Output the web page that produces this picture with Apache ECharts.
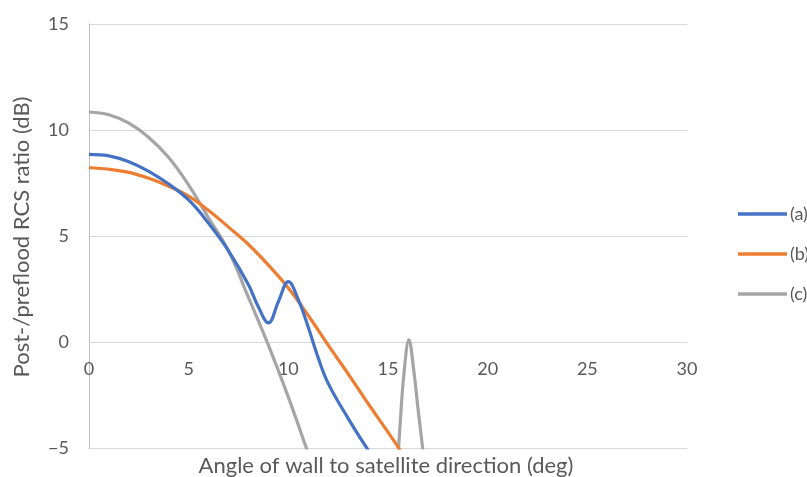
<!DOCTYPE html>
<html>
<head>
<meta charset="utf-8">
<script src="https://cdn.jsdelivr.net/npm/echarts@6/dist/echarts.min.js"></script>
<style>
html,body{margin:0;padding:0;background:#fff;}
#chart{width:807px;height:477px;}
</style>
</head>
<body>
<div id="chart"></div>
<script>
// Series names
const seriesNames = ['(a)', '(b)', '(c)'];
// (a) blue: [angle, dB]
const xA = [0, 1, 2, 3, 4, 5, 6, 7, 8, 8.5, 9, 9.5, 10, 10.5, 11, 11.5, 12, 13, 14, 14.5];
const yA = [8.85, 8.78, 8.5, 8.05, 7.45, 6.7, 5.6, 4.3, 2.7, 1.65, 0.9, 1.9, 2.85, 2.0, 0.7, -0.75, -1.95, -3.6, -5.1, -5.8];
// (b) orange
const xB = [0, 1, 2, 3, 4, 5, 6, 7, 8, 9, 10, 11, 12, 13, 14, 15, 15.5, 16];
const yB = [8.22, 8.15, 8.0, 7.72, 7.35, 6.88, 6.2, 5.42, 4.6, 3.63, 2.55, 1.25, -0.15, -1.5, -2.9, -4.25, -4.95, -5.65];
// (c) gray (null = gap where the curve is far below the axis minimum)
const xC = [0, 1, 2, 3, 4, 5, 6, 7, 8, 9, 10, 11, 11.5, 13, 15.45, 15.6, 15.8, 16.05, 16.3, 16.5, 16.75, 16.9];
const yC = [10.85, 10.72, 10.32, 9.65, 8.7, 7.4, 5.85, 4.3, 2.1, -0.15, -2.6, -5.25, -6.5, null, -6.2, -4.0, -1.5, 0.1, -1.4, -3.1, -5.1, -6.3];
// Axis ticks
const xTicks = [0, 5, 10, 15, 20, 25, 30];
const yTicks = [-5, 0, 5, 10, 15];
const xTitle = 'Angle of wall to satellite direction (deg)';
const yTitle = 'Post-/preflood RCS ratio (dB)';

const colors = ['#4472C4', '#ED7D31', '#A5A5A5'];
const FONT = 'Lato';
const pair = (xs, ys) => xs.map((x, i) => [x, ys[i]]);
const datasets = [pair(xA, yA), pair(xB, yB), pair(xC, yC)];

const GRID = {left: 89, right: 120, top: 24, bottom: 29};
const plotH = 477 - GRID.top - GRID.bottom;
const yMin = yTicks[0], yMax = yTicks[yTicks.length - 1];
// shift the horizontal axis up so it crosses the vertical axis at 0 (as in the source chart)
const xAxisOffset = -plotH * (0 - yMin) / (yMax - yMin);

const chart = echarts.init(document.getElementById('chart'), null, {renderer: 'canvas'});
chart.setOption({
  animation: false,
  backgroundColor: '#fff',
  color: colors,
  textStyle: {fontFamily: FONT},
  grid: Object.assign({containLabel: false, outerBoundsMode: 'none'}, GRID),
  legend: {
    orient: 'vertical',
    left: 733,
    top: 199,
    icon: 'rect',
    itemWidth: 49,
    itemHeight: 3.5,
    itemGap: 20,
    textStyle: {fontFamily: FONT, fontSize: 18, lineHeight: 20, color: '#595959', padding: [0, 0, 0, -2]},
    data: seriesNames
  },
  xAxis: {
    type: 'value',
    min: xTicks[0],
    max: xTicks[xTicks.length - 1],
    interval: 5,
    position: 'bottom',
    offset: xAxisOffset,
    axisLine: {show: true, onZero: false, lineStyle: {color: '#D9D9D9', width: 1}},
    axisTick: {show: false},
    splitLine: {show: false},
    axisLabel: {fontFamily: FONT, fontSize: 18, color: '#595959', margin: 18}
  },
  yAxis: {
    type: 'value',
    min: yMin,
    max: yMax,
    interval: 5,
    axisLine: {show: true, onZero: false, lineStyle: {color: '#BFBFBF', width: 1}},
    axisTick: {show: false},
    splitLine: {show: true, lineStyle: {color: '#D9D9D9', width: 1}},
    axisLabel: {fontFamily: FONT, fontSize: 18, color: '#595959', margin: 20,
      formatter: v => String(v).replace('-', '\u2212')}
  },
  graphic: [
    {type: 'text', x: 386, y: 465.5,
      style: {text: xTitle, font: '22px ' + FONT, fill: '#595959', align: 'center', verticalAlign: 'middle'}},
    {type: 'text', rotation: Math.PI / 2, x: 22, y: 237,
      style: {text: yTitle, font: '22px ' + FONT, fill: '#595959', align: 'center', verticalAlign: 'middle'}}
  ],
  series: seriesNames.map((name, i) => ({
    name: name,
    type: 'line',
    data: datasets[i],
    smooth: 0.4,
    symbol: 'none',
    showSymbol: false,
    connectNulls: false,
    clip: true,
    lineStyle: {width: 3.2, color: colors[i]},
    itemStyle: {color: colors[i]},
    z: 3 - i
  }))
});
</script>
</body>
</html>
